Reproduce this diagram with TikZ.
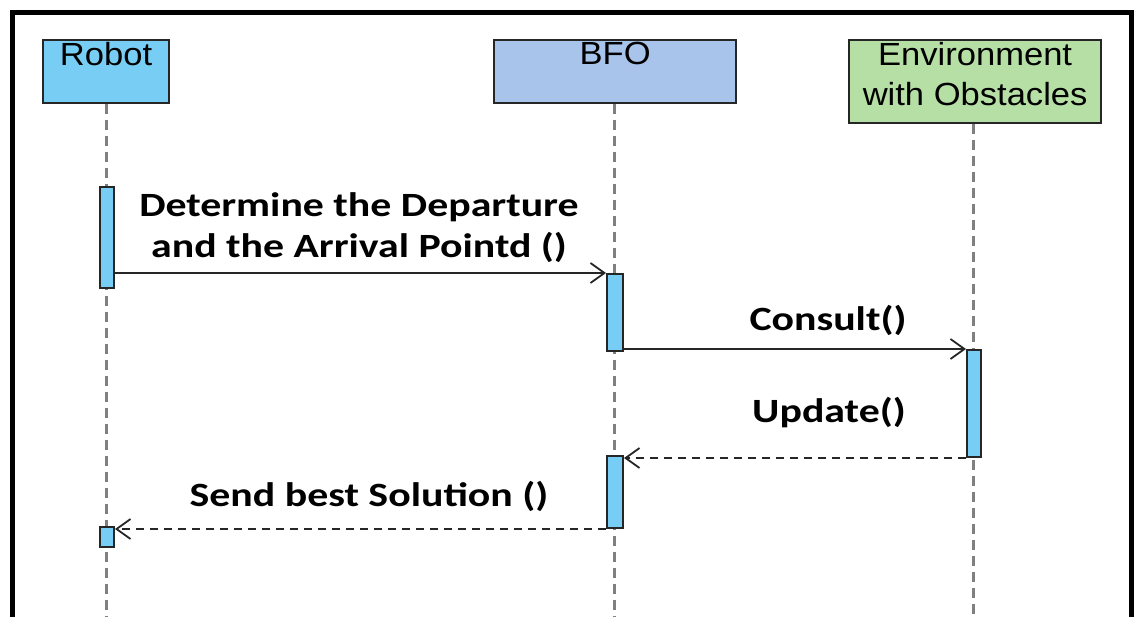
\documentclass[tikz,border=0pt]{standalone}
\usepackage{fontspec}
\setmainfont{Liberation Sans}
\newfontfamily\actorfont[FakeStretch=1.08]{Liberation Sans}
\newfontfamily\msgfont[FakeStretch=1.23]{Carlito}
\usetikzlibrary{arrows.meta}
\definecolor{actorblue}{HTML}{78CDF4}
\definecolor{bfoblue}{HTML}{A8C4EA}
\definecolor{envgreen}{HTML}{B6DFA6}
\definecolor{lifegray}{HTML}{808080}
\begin{document}
\begin{tikzpicture}[x=1pt,y=-1pt,
  actor/.style={draw=black!85, line width=2.2pt, inner sep=0pt, anchor=north west},
  actortext/.style={font=\actorfont\fontsize{32}{40}\selectfont, inner sep=0pt, align=center},
  bar/.style={draw=black!85, line width=2pt, fill=actorblue, inner sep=0pt, anchor=north west},
  lifeline/.style={draw=lifegray, line width=3pt, dash pattern=on 10pt off 6pt},
  msg/.style={draw=black!85, line width=1.8pt, -{Straight Barb[length=14pt,width=20pt,line width=1.8pt]}},
  reply/.style={msg, dash pattern=on 8pt off 6pt},
  msglabel/.style={font=\msgfont\bfseries\fontsize{34}{41}\selectfont, inner sep=0pt, align=center, anchor=base}
]
\useasboundingbox (0,0) rectangle (1137,616);

% outer frame (open at the bottom)
\draw[line width=5pt] (12,640) -- (12,12) -- (1131,12) -- (1131,640);

% participants
\node[actor, fill=actorblue, minimum width=126pt, minimum height=63pt] (robot) at (42,39) {};
\node[actor, fill=bfoblue, minimum width=242pt, minimum height=63pt] (bfo) at (493,39) {};
\node[actor, fill=envgreen, minimum width=252pt, minimum height=83pt] (env) at (848,39) {};
\node[actortext, anchor=north] (robotname) at ([yshift=-3pt]robot.north) {Robot};
\node[actortext, anchor=north] (bfoname) at ([yshift=-3pt]bfo.north) {BFO};
\node[actortext, anchor=north] (envname) at ([yshift=-3pt]env.north) {Environment\\with Obstacles};

% lifelines
\coordinate (robotend) at (106,620);
\coordinate (bfoend) at (614,620);
\coordinate (envend) at (973,620);
\draw[lifeline] (robot.south -| robotend) -- (robotend);
\draw[lifeline] (bfo.south -| bfoend) -- (bfoend);
\draw[lifeline] (env.south -| envend) -- (envend);

% activation bars
\node[bar, minimum width=14pt, minimum height=101pt] (r1) at (99,186) {};
\node[bar, minimum width=16pt, minimum height=77pt] (b1) at (606,273) {};
\node[bar, minimum width=14pt, minimum height=107pt] (e1) at (966,349) {};
\node[bar, minimum width=16pt, minimum height=72pt] (b2) at (606,455) {};
\node[bar, minimum width=14pt, minimum height=20pt] (r2) at (99,526) {};

% messages
\draw[msg] (r1.east |- b1.north west) -- (b1.north west);
\draw[msg] (b1.east |- e1.north west) -- (e1.north west);
\draw[reply] (e1.south west) -- (e1.south west -| b2.north east);
\draw[reply] (b2.south west) -- (b2.south west -| r2.north east);

% message labels (base = baseline of the last line)
\node[msglabel] (m1) at (359,257) {Determine the Departure\\and the Arrival Pointd ()};
\node[msglabel] (m2) at (828,330) {Consult()};
\node[msglabel] (m3) at (829,422) {Update()};
\node[msglabel] (m4) at (369,506) {Send best Solution ()};
\end{tikzpicture}
\end{document}
